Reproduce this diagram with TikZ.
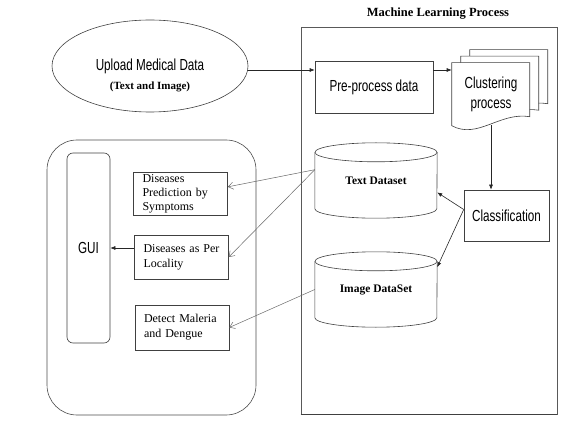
\documentclass[tikz,border=0pt]{standalone}
\usepackage{fontspec}
\setmainfont{Liberation Serif}
\newfontfamily\narrowsf[FakeStretch=0.73]{Liberation Sans}
\usetikzlibrary{shapes.geometric,arrows.meta,backgrounds}

\begin{document}
\begin{tikzpicture}[x=1pt,y=1pt]

	 \tikzstyle{procbox}=[rectangle,draw=black!75,line width=0.6pt,inner sep=0pt,align=center,font=\narrowsf\fontsize{16}{20}\selectfont]
	 \tikzstyle{diseasebox}=[rectangle,draw=black!75,line width=0.6pt,align=left,text width=76pt,inner xsep=9pt,inner ysep=0pt,font=\fontsize{12}{15}\selectfont]
	 \tikzstyle{dbnode}=[rectangle,minimum width=122,minimum height=75,inner sep=0pt,font=\bfseries\fontsize{11.5}{14}\selectfont]
	 \tikzstyle{dbline}=[draw=black!75,line width=0.6pt]
	 \tikzstyle{docline}=[draw=black!75,line width=0.6pt,fill=white]
	 \tikzstyle{arrow}=[draw=black!85,line width=0.6pt,-{Latex[length=5pt,width=4pt]}]
	 \tikzstyle{thinarrow}=[draw=black!60,line width=0.5pt,-{Straight Barb[length=5pt,width=7pt]}]

	 \useasboundingbox (0,0) rectangle (573,429);

	 % input
	 \node[ellipse,draw=black!75,line width=0.6pt,minimum width=196,minimum height=92,inner sep=0pt,font=\narrowsf\fontsize{16}{20}\selectfont] (upload) at (150,363) {Upload Medical Data};
	 \node[font=\bfseries\fontsize{11}{13}\selectfont] (uploadsub) at (150,342) {(Text and Image)};

	 % machine learning part
	 \node[rectangle,draw=black!65,line width=0.6pt,minimum width=256,minimum height=387] (mlframe) at (429,208.5) {};
	 \draw[line width=1.6pt,black!75] (mlframe.south west) -- (mlframe.south east);
	 \node[font=\bfseries\fontsize{12.5}{14}\selectfont] (mltitle) at (438,415) {Machine Learning Process};
	 \node[procbox,minimum width=118,minimum height=52] (prep) at (374,342) {Pre-process data};
	 \node[procbox,draw=none,minimum width=78,minimum height=62] (cluster) at (491,335) {Clustering\\process};
	 \begin{scope}[on background layer,shift={(cluster.north west)}]
	   \foreach \d in {2,1,0}
	     \draw[docline,shift={(9*\d,6.5*\d)}] (0,0) -- (78,0) -- (78,-54) .. controls (48,-49) and (26,-77) .. (0,-63) -- cycle;
	 \end{scope}
	 \node[procbox,minimum width=85,minimum height=51] (classif) at (506.5,213.5) {Classification};
	 \node[dbnode] (textdb) at (376,248.5) {Text Dataset};
	 \node[dbnode] (imgdb) at (376,139.5) {\raisebox{-6pt}{Image DataSet}};
	 \foreach \db in {textdb,imgdb} {
	   \draw[dbline] ([yshift=-9.5pt]\db.north) ellipse [x radius=61pt,y radius=9.5pt];
	   \draw[dbline] ([yshift=-9.5pt]\db.north west) -- ([yshift=9.5pt]\db.south west) arc [start angle=180,end angle=360,x radius=61pt,y radius=9.5pt] -- ([yshift=-9.5pt]\db.north east);
	 }

	 % user side
	 \node[rectangle,draw=black!70,line width=0.6pt,rounded corners=30pt,minimum width=209,minimum height=275] (guiframe) at (151.5,151.5) {};
	 \node[procbox,rounded corners=6pt,minimum width=43,minimum height=190] (gui) at (88.5,181) {GUI};
	 \node[diseasebox,minimum height=43,font=\fontsize{12}{14}\selectfont] (dpred) at (180.5,235.5) {Diseases\\Prediction by\\Symptoms};
	 \node[diseasebox,minimum height=44] (dloc) at (181.5,172) {Diseases as Per\\Locality};
	 \node[diseasebox,minimum height=45] (dmal) at (182,101.5) {Detect Maleria\\and Dengue};

	 % connectors
	 \coordinate (flow) at (0,359);
	 \draw[arrow] (upload.east |- flow) -- (prep.west |- flow);
	 \draw[arrow] (prep.east |- flow) -- (cluster.west |- flow);
	 \draw[arrow] (cluster.south) -- (cluster.south |- classif.north);
	 \draw[arrow] (classif.172) -- (textdb.-11);
	 \draw[arrow] (classif.172) -- (imgdb.20);
	 \draw[thinarrow] (textdb.170) -- (dpred.8);
	 \draw[thinarrow] (textdb.170) -- (dloc.east);
	 \draw[thinarrow] (imgdb.west) -- (dmal.east);
	 \draw[arrow] (dloc.west |- gui.east) -- (gui.east);

\end{tikzpicture}
\end{document}
